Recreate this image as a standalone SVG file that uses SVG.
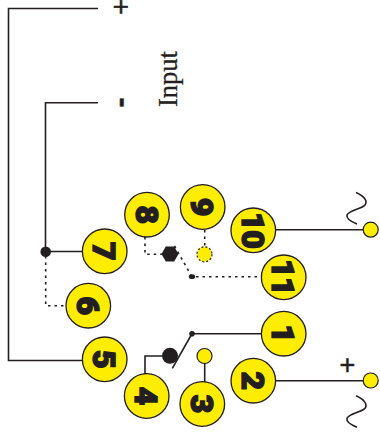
<svg xmlns="http://www.w3.org/2000/svg" width="380" height="439" viewBox="0 0 380 439">
<style>
.bg{fill:#fff}
.n{fill:#ffed00;stroke:#231f20;stroke-width:1.3}
.d{font-family:Roboto,"Liberation Sans",Arial,sans-serif;font-weight:900;font-size:32px;fill:#231f20;stroke:#231f20;stroke-width:1.5;stroke-linejoin:miter;text-anchor:middle}
.w{fill:none;stroke:#231f20;stroke-width:1.6}
.k{fill:none;stroke:#231f20;stroke-width:1.6;stroke-dasharray:2.5 4}
.b{fill:#231f20}
.t{fill:#ffed00;stroke:#231f20;stroke-width:1.2}
.q{fill:#ffed00;stroke:#231f20;stroke-width:1.2;stroke-dasharray:2 2}
.l{font-family:"Liberation Sans",Arial,sans-serif;fill:#231f20;stroke:#231f20;stroke-width:.5;text-anchor:middle}
</style>
<rect class="bg" width="380" height="439"/>
<g id="connectors">
<path class="w" d="M98 8.5H8.5V360.5H83"/>
<path class="w" d="M98 102.7H45.5V251.5H83"/>
<path class="k" d="M45.7 256V305.7H66"/>
<path class="k" d="M145 237V254.3H163"/>
<path class="k" d="M174.5 246L191.5 276"/>
<path class="k" d="M196 276.7H262"/>
<path class="k" d="M204.7 230V247"/>
<path class="w" d="M276 229.7H364"/>
<path class="w" d="M192 333.7H262"/>
<path class="w" d="M191.5 334.5L172.3 368.3"/>
<path class="w" d="M145 374V356H168"/>
<path class="w" d="M204.7 382V362"/>
<path class="w" d="M276 380.7H364"/>
<path class="w" d="M356 192.5C364 196 368 201 365 205C362 209 349 210 347 215C346 219 352 222 357 224"/>
<path class="w" d="M356 395.8C364 399.3 368 404.3 365 408.3C362 412.3 349 413.3 347 418.3C346 422.3 352 425.3 357 427.3"/>
<circle class="b" cx="45.7" cy="251.7" r="5.3"/>
<polygon class="b" points="161.5,254 165.8,246.6 174.2,246.6 178.5,254 174.2,261.4 165.8,261.4"/>
<ellipse class="b" cx="192" cy="276.7" rx="3.2" ry="2.4"/>
<circle class="b" cx="192" cy="333.7" r="2.8"/>
<circle class="b" cx="170" cy="355.8" r="8"/>
<circle class="q" cx="204.5" cy="254.3" r="7.5"/>
<circle class="t" cx="204.5" cy="356" r="7.5"/>
<circle class="t" cx="370.7" cy="229.7" r="7.5"/>
<circle class="t" cx="370.7" cy="380.5" r="7.5"/>
</g>
<g id="node-1"><circle class="n" cx="283.7" cy="333.7" r="22.3"/><text class="d" transform="translate(283.7 333.7) rotate(90)" y="11.4">1</text></g>
<g id="node-2"><circle class="n" cx="253.3" cy="380.7" r="22.3"/><text class="d" transform="translate(253.3 380.7) rotate(90)" y="11.4">2</text></g>
<g id="node-3"><circle class="n" cx="202.3" cy="404" r="22.3"/><text class="d" transform="translate(202.3 404) rotate(90)" y="11.4">3</text></g>
<g id="node-4"><circle class="n" cx="146.7" cy="396" r="22.3"/><text class="d" transform="translate(146.7 396) rotate(90)" y="11.4">4</text></g>
<g id="node-5"><circle class="n" cx="104.7" cy="359.3" r="22.3"/><text class="d" transform="translate(104.7 359.3) rotate(90)" y="11.4">5</text></g>
<g id="node-6"><circle class="n" cx="88.3" cy="305.7" r="22.3"/><text class="d" transform="translate(88.3 305.7) rotate(90)" y="11.4">6</text></g>
<g id="node-7"><circle class="n" cx="104.7" cy="251.3" r="22.3"/><text class="d" transform="translate(104.7 251.3) rotate(90)" y="11.4">7</text></g>
<g id="node-8"><circle class="n" cx="147" cy="214.7" r="22.3"/><text class="d" transform="translate(147 214.7) rotate(90)" y="11.4">8</text></g>
<g id="node-9"><circle class="n" cx="202.7" cy="207" r="22.3"/><text class="d" transform="translate(202.7 207) rotate(90)" y="11.4">9</text></g>
<g id="node-10"><circle class="n" cx="253.3" cy="230.3" r="22.3"/><text class="d" transform="translate(253.3 230.3) rotate(90)" y="11.4" letter-spacing="-.5">10</text></g>
<g id="node-11"><circle class="n" cx="283.7" cy="277.3" r="22.3"/><text class="d" transform="translate(283.7 277.3) rotate(90)" y="11.4" letter-spacing="-.5">11</text></g>
<g id="labels">
<text class="l" font-size="27" transform="translate(112 7) rotate(90)">+</text>
<text class="l" font-size="30" font-weight="700" transform="translate(114 102.5) rotate(90)">-</text>
<text class="l" font-size="27" x="347.3" y="374">+</text>
<text font-family="'Liberation Serif','Times New Roman',serif" font-size="26.5" fill="#231f20" stroke="#231f20" stroke-width=".3" transform="translate(177 107) rotate(-90)">Input</text>
</g>
</svg>
